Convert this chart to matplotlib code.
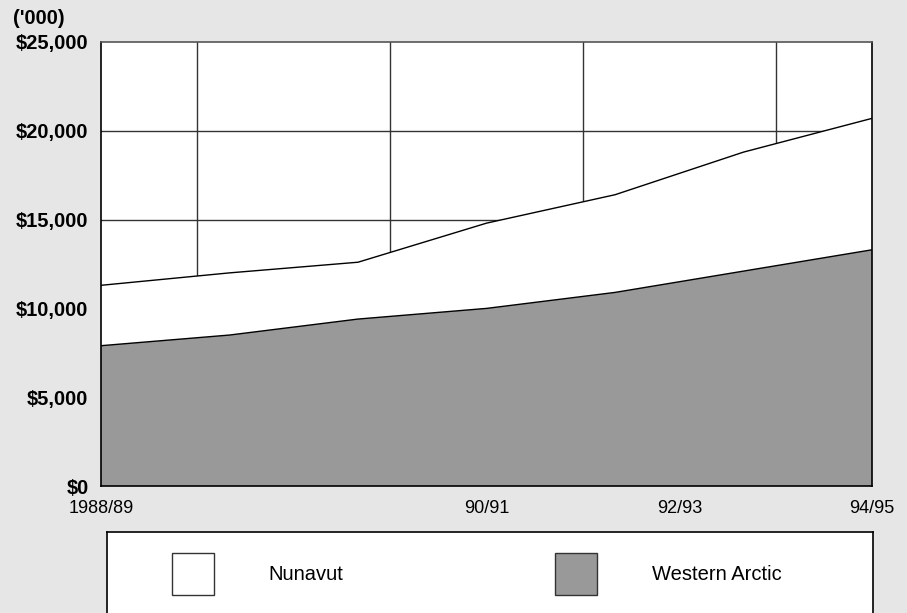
import matplotlib.pyplot as plt
from matplotlib.patches import Rectangle

plt.rcParams['font.family'] = ['Liberation Sans', 'DejaVu Sans']

# Spending in $ thousands, one value per fiscal year 1988/89 .. 94/95
years = ['1988/89', '89/90', '90/91', '91/92', '92/93', '93/94', '94/95']
western_arctic = [7900, 8500, 9400, 10000, 10900, 12100, 13300]
nunavut = [3400, 3500, 3200, 4800, 5500, 6700, 7400]

series_names = ['Nunavut', 'Western Arctic']
series_colors = ['white', '#999999']

tick_pos = [0, 3, 4.5, 6]
tick_labels = ['1988/89', '90/91', '92/93', '94/95']
vgrid_pos = [0.75, 2.25, 3.75, 5.25]
y_ticks = [0, 5000, 10000, 15000, 20000, 25000]

bg = '#e6e6e6'
fig = plt.figure(figsize=(9.07, 6.13), dpi=100, facecolor=bg)
ax = fig.add_axes([101 / 907, 1 - 486 / 613, 771 / 907, 444 / 613])
ax.set_facecolor('white')

x = list(range(len(years)))
ax.stackplot(x, western_arctic, nunavut,
             colors=[series_colors[1], series_colors[0]], zorder=2)
total = [w + n for w, n in zip(western_arctic, nunavut)]
ax.plot(x, western_arctic, color='black', lw=1.0, zorder=3)
ax.plot(x, total, color='black', lw=1.0, zorder=3)

# grid sits behind the filled areas
for v in vgrid_pos:
    ax.axvline(v, color='#333333', lw=1.0, zorder=1)
for h in y_ticks[1:-1]:
    ax.axhline(h, color='#333333', lw=1.0, zorder=1)

ax.set_xlim(0, 6)
ax.set_ylim(0, 25000)
ax.set_xticks(tick_pos)
ax.set_xticklabels(tick_labels, fontsize=13)
ax.set_yticks(y_ticks)
ax.set_yticklabels(['${:,}'.format(v) for v in y_ticks],
                   fontsize=14.5, fontweight='bold')
ax.tick_params(length=0)
ax.tick_params(axis='y', pad=9)
ax.tick_params(axis='x', pad=10)
for side in ['left', 'right', 'bottom']:
    ax.spines[side].set_color('black')
    ax.spines[side].set_linewidth(1.2)
ax.spines['top'].set_color('#555555')
ax.spines['top'].set_linewidth(1.2)

fig.text(13 / 907, 1 - 18 / 613, "('000)", fontsize=14.5, fontweight='bold',
         va='center', ha='left')

# legend panel, running off the bottom edge
lax = fig.add_axes([107 / 907, 1 - 623 / 613, 766 / 907, 91 / 613])
lax.set_xlim(107, 873)
lax.set_ylim(623, 532)
lax.set_xticks([])
lax.set_yticks([])
lax.set_facecolor('white')
for s in lax.spines.values():
    s.set_color('black')
    s.set_linewidth(1.2)

swatch_x = [172, 555]
text_x = [268, 652]
for name, col, sx, tx in zip(series_names, series_colors, swatch_x, text_x):
    lax.add_patch(Rectangle((sx, 553), 42, 42, facecolor=col,
                            edgecolor='#333333', lw=1.0))
    lax.text(tx, 575, name, fontsize=14.5, va='center', ha='left')

fig.savefig('out.png', dpi=100, facecolor=bg)
